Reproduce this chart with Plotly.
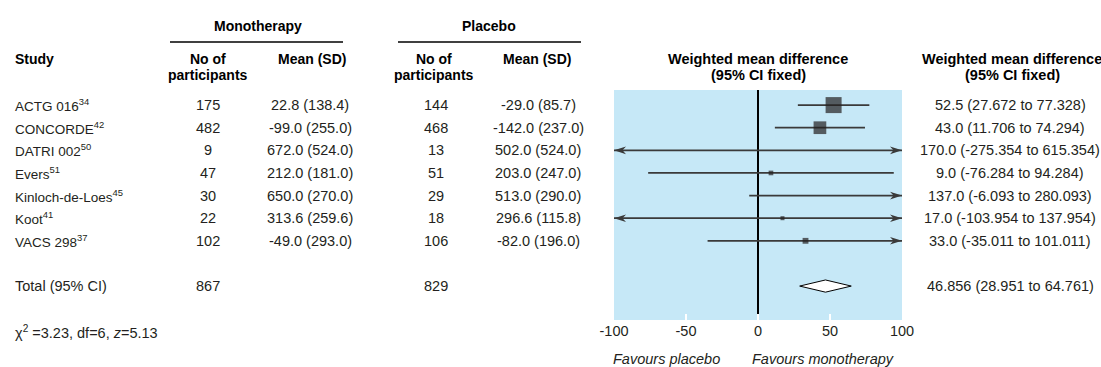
import numpy as np
import plotly.graph_objects as go

# ---- data -------------------------------------------------------------
studies = ["ACTG 016", "CONCORDE", "DATRI 002", "Evers", "Kinloch-de-Loes", "Koot", "VACS 298"]
refs = ["34", "42", "50", "51", "45", "41", "37"]
mono_n = [175, 482, 9, 47, 30, 22, 102]
mono_mean = [22.8, -99.0, 672.0, 212.0, 650.0, 313.6, -49.0]
mono_sd = [138.4, 255.0, 524.0, 181.0, 270.0, 259.6, 293.0]
plac_n = [144, 468, 13, 51, 29, 18, 106]
plac_mean = [-29.0, -142.0, 502.0, 203.0, 513.0, 296.6, -82.0]
plac_sd = [85.7, 237.0, 524.0, 247.0, 290.0, 115.8, 196.0]
wmd = [52.5, 43.0, 170.0, 9.0, 137.0, 17.0, 33.0]
ci_low = [27.672, 11.706, -275.354, -76.284, -6.093, -103.954, -35.011]
ci_high = [77.328, 74.294, 615.354, 94.284, 280.093, 137.954, 101.011]
total_mono_n = 867
total_plac_n = 829
total_wmd = 46.856
total_low = 28.951
total_high = 64.761
chi2, df_, z_ = 3.23, 6, 5.13
x_ticks = [-100, -50, 0, 50, 100]
x_tick_labels = ["-100", "-50", "0", "50", "100"]

# ---- page geometry ----------------------------------------------------
W, H = 1101, 367
FONT = "Liberation Sans Narrow, Arial Narrow, Liberation Sans, Arial, sans-serif"
TXT = "#231f20"
BLUE = "#c6e8f7"
LINE = "#3a3a3a"
FS = 14.5      # numbers and general text
FS_NAME = 13.5  # study names
FS_HEAD = 14   # bold column headers


def px(x):
    return x / W


def py(y):
    return 1 - y / H


rows = list(range(len(studies)))
total_row = len(studies) + 1
xmin, xmax = x_ticks[0], x_ticks[-1]

fig = go.Figure()

# confidence interval lines, clipped to the visible scale
for i, lo, hi in zip(rows, ci_low, ci_high):
    fig.add_trace(go.Scatter(
        x=[max(lo, xmin), min(hi, xmax)], y=[i, i], mode="lines",
        line=dict(color=LINE, width=1.8), hoverinfo="skip", showlegend=False))

# study weights (inverse variance) set the square sizes
se = (np.array(ci_high) - np.array(ci_low)) / (2 * 1.96)
w = 1 / se ** 2
sizes = np.clip(16 * np.sqrt(w / w.max()), 4, None)
fig.add_trace(go.Scatter(
    x=wmd, y=rows, mode="markers",
    marker=dict(symbol="square", size=sizes, color=TXT, line=dict(width=0)),
    hoverinfo="skip", showlegend=False))

# pooled estimate diamond
hh = 0.27
fig.add_trace(go.Scatter(
    x=[total_low, total_wmd, total_high, total_wmd, total_low],
    y=[total_row, total_row - hh, total_row, total_row + hh, total_row],
    mode="lines", fill="toself", fillcolor="white",
    line=dict(color="black", width=1), hoverinfo="skip", showlegend=False))

shapes = []
# arrowheads where an interval runs off the scale
for i, lo, hi in zip(rows, ci_low, ci_high):
    if hi > xmax:
        shapes.append(dict(type="path", xref="x", yref="y", xsizemode="pixel", ysizemode="pixel",
                           xanchor=xmax, yanchor=i, path="M0,0 L-12,3.8 L-8.5,0 L-12,-3.8 Z",
                           fillcolor=LINE, line=dict(width=0)))
    if lo < xmin:
        shapes.append(dict(type="path", xref="x", yref="y", xsizemode="pixel", ysizemode="pixel",
                           xanchor=xmin, yanchor=i, path="M0,0 L12,3.8 L8.5,0 L12,-3.8 Z",
                           fillcolor=LINE, line=dict(width=0)))

# header underlines
shapes.append(dict(type="line", xref="paper", yref="paper", x0=px(170), x1=px(343), y0=py(42), y1=py(42),
                   line=dict(color="black", width=1.5)))
shapes.append(dict(type="line", xref="paper", yref="paper", x0=px(398), x1=px(581), y0=py(42), y1=py(42),
                   line=dict(color="black", width=1.5)))

ann = []


def t(x, y, text, anchor="center", size=FS, color=TXT, yref="paper"):
    ann.append(dict(x=px(x), y=(py(y) if yref == "paper" else y), xref="paper", yref=yref,
                    text=text, showarrow=False, xanchor=anchor, yanchor="middle",
                    borderpad=0, font=dict(family=FONT, size=size, color=color)))


# column headers
t(258, 26, "<b>Monotherapy</b>", size=FS_HEAD, color="black")
t(489, 26, "<b>Placebo</b>", size=FS_HEAD, color="black")
t(14, 59, "<b>Study</b>", "left", size=FS_HEAD, color="black")
for cx in (208, 434):
    t(cx, 59, "<b>No of</b>", size=FS_HEAD, color="black")
    t(cx, 75, "<b>participants</b>", size=FS_HEAD, color="black")
t(312, 59, "<b>Mean (SD)</b>", size=FS_HEAD, color="black")
t(537, 59, "<b>Mean (SD)</b>", size=FS_HEAD, color="black")
for cx in (758, 1012):
    t(cx, 59, "<b>Weighted mean difference</b>", size=FS_HEAD + 0.5, color="black")
    t(cx, 75, "<b>(95% CI fixed)</b>", size=FS_HEAD + 0.5, color="black")

# study rows
for i in rows:
    t(14, i, f"{studies[i]}<sup>{refs[i]}</sup>", "left", size=FS_NAME, yref="y")
    t(208, i, f"{mono_n[i]}", yref="y")
    t(310, i, f"{mono_mean[i]:.1f} ({mono_sd[i]:.1f})", yref="y")
    t(436, i, f"{plac_n[i]}", yref="y")
    t(538, i, f"{plac_mean[i]:.1f} ({plac_sd[i]:.1f})", yref="y")
    t(1010, i, f"{wmd[i]:.1f} ({ci_low[i]:.3f} to {ci_high[i]:.3f})", yref="y")

# total row
t(14, total_row, "Total (95% CI)", "left", yref="y")
t(208, total_row, f"{total_mono_n}", yref="y")
t(436, total_row, f"{total_plac_n}", yref="y")
t(1010, total_row, f"{total_wmd:.3f} ({total_low:.3f} to {total_high:.3f})", yref="y")

# heterogeneity and overall effect
t(14, 332, f"\u03c7<sup>2</sup> ={chi2:.2f}, df={df_}, <i>z</i>={z_:.2f}", "left")

# direction labels
t(666, 359, "<i>Favours placebo</i>")
t(823, 359, "<i>Favours monotherapy</i>")

fig.update_layout(
    width=W, height=H, margin=dict(l=0, r=0, t=0, b=0, pad=0, autoexpand=False),
    paper_bgcolor="white", plot_bgcolor=BLUE,
    shapes=shapes, annotations=ann,
    xaxis=dict(domain=[px(614), px(902)], range=[xmin, xmax],
               tickmode="array", tickvals=x_ticks, ticktext=x_tick_labels,
               showgrid=False, zeroline=True, zerolinecolor="black", zerolinewidth=1.5,
               ticks="inside", ticklen=6, tickwidth=1.5, tickcolor="white",
               showline=False, tickfont=dict(family=FONT, size=FS, color=TXT)),
    yaxis=dict(domain=[py(320), py(90)], range=[9.5, -0.667], visible=False,
               showgrid=False, zeroline=False),
    showlegend=False,
)

fig.write_html("out.html")
